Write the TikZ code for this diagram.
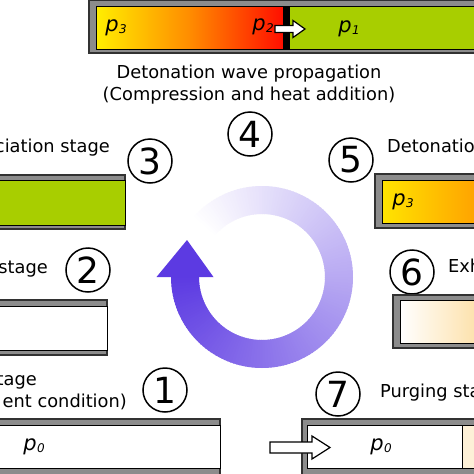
\documentclass[tikz,border=0pt]{standalone}
\usepackage{fontspec}
\setmainfont{DejaVu Sans}
\definecolor{tubegray}{RGB}{140,140,140}
\definecolor{tubedark}{RGB}{50,50,50}
\definecolor{tgreen}{RGB}{168,206,0}
\definecolor{ty}{RGB}{255,238,0}
\definecolor{tor}{RGB}{255,140,0}
\definecolor{tred}{RGB}{255,15,0}
\definecolor{tyf}{RGB}{255,228,0}
\definecolor{torf}{RGB}{255,160,0}
\definecolor{tpeach}{RGB}{253,224,168}
\definecolor{tpeachs}{RGB}{253,240,215}
\definecolor{arrp}{RGB}{92,58,226}
\newcommand\pvar[1]{{\fontsize{21}{21}\selectfont\itshape p}\kern0.5pt\raisebox{-2pt}{\fontsize{12}{12}\selectfont\itshape #1}}
\begin{document}
\begin{tikzpicture}[x=1pt,y=-1pt,
  outer/.style={fill=tubegray,draw=tubedark,line width=1.2pt},
  inner/.style={draw=black,line width=1pt},
  numc/.style={circle,draw=black,line width=1.5pt,minimum size=44pt,inner sep=0pt,font=\fontsize{36}{36}\selectfont},
  lab/.style={font=\fontsize{17.8}{22}\selectfont,inner sep=0pt},
  plab/.style={inner sep=0pt},
  warrow/.style={fill=white,draw=black,line width=1.2pt,line join=miter}]
\useasboundingbox (0,0) rectangle (474,474);
\clip (0,0) rectangle (474,474);
\fill[white] (0,0) rectangle (474,474);

% ---------- top tube (stage 4)
\draw[outer] (89,0) rectangle (480,53);
\shade[left color=ty,right color=tred,middle color=tor] (96,6) rectangle (283,49);
\fill[black] (283,6) rectangle (290,49);
\fill[tgreen] (290,6) rectangle (480,49);
\draw[inner] (96,6) rectangle (480,49);
\node[plab] (pthree) at (116,27.5) {\pvar{3}};
\node[plab] (ptwo) at (263,27) {\pvar{2}};
\node[plab] (pone) at (349,28.5) {\pvar{1}};
\draw[warrow] (275,25.5) -- (293,25.5) -- (293,20.5) -- (305,29) -- (293,37.5) -- (293,32.5) -- (275,32.5) -- cycle;

\node[lab,anchor=base] (tfoura) at (249,78) {Detonation wave propagation};
\node[lab,anchor=base] (tfourb) at (249,100) {(Compression and heat addition)};
\node[numc] (cfour) at (250,134) {4};

% ---------- stage 3 (left)
\node[lab,anchor=base east] (tthree) at (110,152) {ciation stage};
\node[numc] (cthree) at (150,161) {3};
\draw[outer] (-5,175) rectangle (125,229);
\fill[tgreen] (-5,180) rectangle (125,225);
\draw[inner] (-5,180) rectangle (125,225);

% ---------- stage 5 (right)
\node[numc] (cfive) at (351,160) {5};
\node[lab,anchor=base west] (tfive) at (387,152) {Detonation};
\draw[outer] (375,174) rectangle (480,228);
\shade[left color=tyf,right color=torf] (382,180) rectangle (480,223);
\draw[inner] (382,180) rectangle (480,223);
\node[plab] (pfive) at (403,202) {\pvar{3}};

% ---------- stage 2 (left)
\node[lab,anchor=base east] (ttwo) at (48,273) {stage};
\node[numc] (ctwo) at (88,270) {2};
\draw[outer] (-5,300) rectangle (107,355);
\fill[white] (-5,306) rectangle (107,350);
\draw[inner] (-5,306) rectangle (107,350);

% ---------- stage 6 (right)
\node[numc] (csix) at (412,272) {6};
\node[lab,anchor=base west] (tsix) at (448,272) {Exh};
\draw[outer] (393,295) rectangle (480,348);
\shade[left color=white,right color=tpeach] (400,300) rectangle (480,343);
\draw[inner] (400,300) rectangle (480,343);

% ---------- stage 1 (left)
\node[lab,anchor=base east] (tonea) at (37,385) {tage};
\node[lab,anchor=base east] (toneb) at (127,407) {ent condition)};
\node[numc] (cone) at (165,390) {1};
\draw[outer] (-5,419) rectangle (220,480);
\fill[white] (-5,425) rectangle (220,468);
\draw[inner] (-5,425) rectangle (220,468);
\node[plab] (pzeroa) at (34,447) {\pvar{0}};

% ---------- stage 7 (right)
\node[numc] (cseven) at (338,394) {7};
\node[lab,anchor=base west] (tseven) at (380,397) {Purging sta};
\draw[outer] (302,419) rectangle (480,480);
\fill[white] (307,425) rectangle (462,468);
\fill[tpeachs] (462,425) rectangle (480,468);
\draw[inner] (307,425) rectangle (480,468);
\draw[black,line width=1pt] (462,425) -- (462,468);
\node[plab] (pzerob) at (381,447) {\pvar{0}};
\draw[warrow] (270,442) -- (312,442) -- (312,436) -- (330,447.5) -- (312,459) -- (312,453) -- (270,453) -- cycle;

% ---------- cycle arrow
\begin{scope}[shift={(262,277)},y=1pt]
  \foreach \a in {140,138,...,-178}{
    \pgfmathsetmacro\t{min(100,max(0,(140-\a)/320*100))}
    \fill[arrp!\t!white] (\a:91) arc[start angle=\a, end angle={\a-2.6}, radius=91]
      -- ({\a-2.6}:63) arc[start angle={\a-2.6}, end angle=\a, radius=63] -- cycle;
  }
  \fill[arrp] (-105.5,0) -- (-48.5,0) -- (-75,37) -- cycle;
\end{scope}
\end{tikzpicture}
\end{document}
